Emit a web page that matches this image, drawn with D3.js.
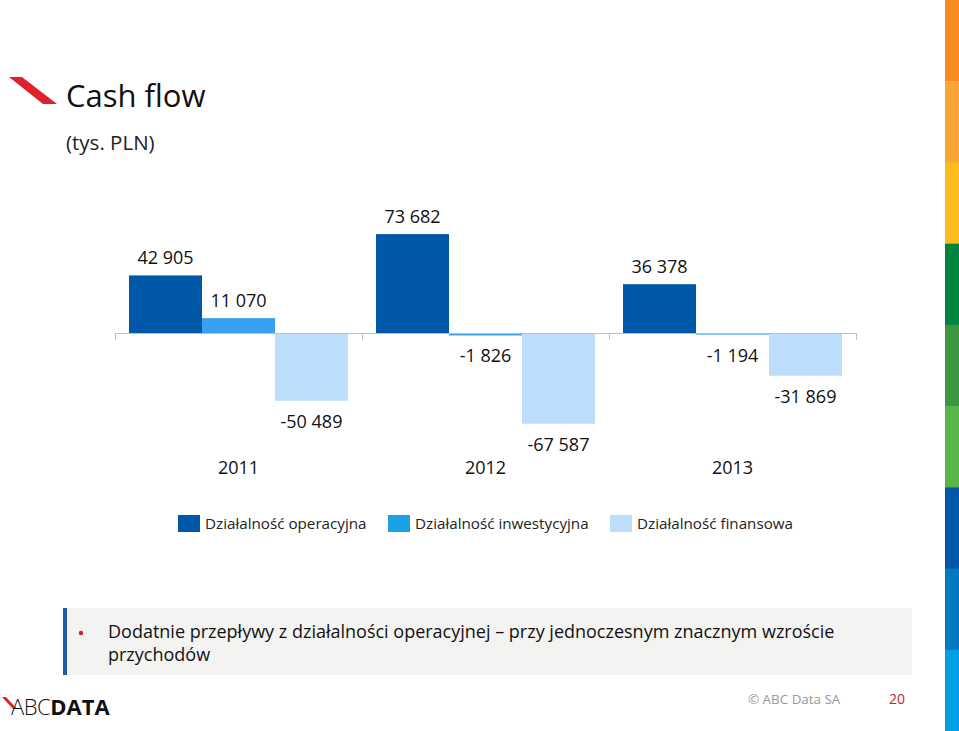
<!DOCTYPE html>
<html><head><meta charset="utf-8">
<script src="https://cdn.jsdelivr.net/npm/d3@7"></script>
<style>body{margin:0;background:#fff}svg{display:block}text{font-family:"Open Sans","Noto Sans",sans-serif}</style>
</head><body>
<script>
const years = ["2011","2012","2013"];
const seriesNames = ["Działalność operacyjna","Działalność inwestycyjna","Działalność finansowa"];
const operacyjna = [42905, 73682, 36378];
const inwestycyjna = [11070, -1826, -1194];
const finansowa = [-50489, -67587, -31869];
const seriesColors = ["#0059a8","#38a0f2","#bcdefc"];
const legendColors = ["#0059a8","#1aa0e6","#bcdefc"];
const stripColors = ["#f68c1f","#f9a533","#fcbd1c","#00843f","#3d973f","#58b547","#0057a8","#0079c0","#00a1e4"];
const title = "Cash flow";
const subtitle = "(tys. PLN)";
const noteLines = ["Dodatnie przepływy z działalności operacyjnej – przy jednoczesnym znacznym wzroście","przychodów"];

const W=959,H=731;
const svg=d3.select("body").append("svg").attr("width",W).attr("height",H);
const fmt=v=>{const s=Math.abs(v).toString().replace(/\B(?=(\d{3})+(?!\d))/g," ");return (v<0?"-":"")+s;};

// right strip
const ys=d3.scaleBand().domain(d3.range(stripColors.length)).range([0,H]);
svg.selectAll("rect.strip").data(stripColors).join("rect").attr("class","strip")
  .attr("x",945).attr("width",14).attr("y",(d,i)=>ys(i)).attr("height",ys.bandwidth()+0.5).attr("fill",d=>d);

// title logo
svg.append("path").attr("d","M9,77 L22,77 L57,104 L43,104 Z").attr("fill","#e0202a");
svg.append("text").attr("x",66).attr("y",107).attr("font-size",31).attr("fill","#111").text(title);
svg.append("text").attr("x",66).attr("y",150).attr("font-size",20.5).attr("fill","#222").text(subtitle);

// chart
const x0=d3.scaleBand().domain(years).range([115,856]).paddingInner(0).paddingOuter(0);
const x1=d3.scaleBand().domain([0,1,2]).range([0,x0.bandwidth()]).paddingInner(0).paddingOuter(0.192);
const y=d3.scaleLinear().domain([-80000,80000]).range([440.4,225.6]);
const data=years.map((yr,i)=>({yr,vals:[operacyjna[i],inwestycyjna[i],finansowa[i]]}));
const g=svg.append("g");
const groups=g.selectAll("g.grp").data(data).join("g").attr("transform",d=>`translate(${x0(d.yr)},0)`);
groups.selectAll("rect").data(d=>d.vals).join("rect")
  .attr("x",(d,i)=>x1(i)).attr("width",x1.bandwidth())
  .attr("y",d=>y(Math.max(0,d))).attr("height",d=>Math.abs(y(d)-y(0)))
  .attr("fill",(d,i)=>seriesColors[i]);
groups.selectAll("text").data(d=>d.vals).join("text")
  .attr("x",(d,i)=>x1(i)+x1.bandwidth()/2).attr("text-anchor","middle")
  .attr("y",d=>d>=0?y(d)-11:y(d)+27).attr("font-size",18).attr("fill","#111").text(fmt);

// axis
const ax=d3.axisBottom(x0).tickSize(0).tickFormat("");
const axg=g.append("g").attr("transform",`translate(0,${y(0)})`).call(ax);
axg.select(".domain").attr("stroke","#bfbfbf").attr("d",`M115,0.5H856`);
axg.selectAll(".bnd").data([115,362,609,856]).join("line").attr("class","bnd")
  .attr("x1",d=>d+0.5).attr("x2",d=>d+0.5).attr("y1",0).attr("y2",7).attr("stroke","#bfbfbf");
g.selectAll("text.cat").data(years).join("text").attr("class","cat")
  .attr("x",d=>x0(d)+x0.bandwidth()/2).attr("y",474).attr("text-anchor","middle")
  .attr("font-size",18).attr("fill","#111").text(d=>d);

// legend
const legX=[178,388,610];
const lg=svg.selectAll("g.leg").data(seriesNames).join("g").attr("class","leg")
  .attr("transform",(d,i)=>`translate(${legX[i]},515)`);
lg.append("rect").attr("width",22).attr("height",17).attr("fill",(d,i)=>legendColors[i]);
lg.append("text").attr("x",27).attr("y",14).attr("font-size",15.2).attr("fill","#222").text(d=>d);

// note box
svg.append("rect").attr("x",63).attr("y",608).attr("width",849).attr("height",67).attr("fill","#f3f3f1");
svg.append("rect").attr("x",63).attr("y",608).attr("width",4).attr("height",67).attr("fill","#1e5aa6");
svg.append("circle").attr("cx",81).attr("cy",633).attr("r",2.2).attr("fill","#c8202e");
svg.selectAll("text.note").data(noteLines).join("text").attr("class","note")
  .attr("x",108).attr("y",(d,i)=>638+i*23).attr("font-size",18).attr("fill","#111").text(d=>d);

// footer
svg.append("path").attr("d","M2,697 L6,697 L17,709 L13,709 Z").attr("fill","#e0202a");
const lt=svg.append("text").attr("x",11).attr("y",715).attr("font-size",22).attr("fill","#111");
lt.append("tspan").attr("font-weight",300).attr("letter-spacing",-0.5).text("ABC");
lt.append("tspan").attr("font-weight",700).attr("letter-spacing",0).text("DATA");
svg.append("text").attr("x",748).attr("y",704).attr("font-size",13.4).attr("fill","#999").text("© ABC Data SA");
svg.append("text").attr("x",889).attr("y",704).attr("font-size",14).attr("fill","#c8202e").text("20");
</script>
</body></html>
